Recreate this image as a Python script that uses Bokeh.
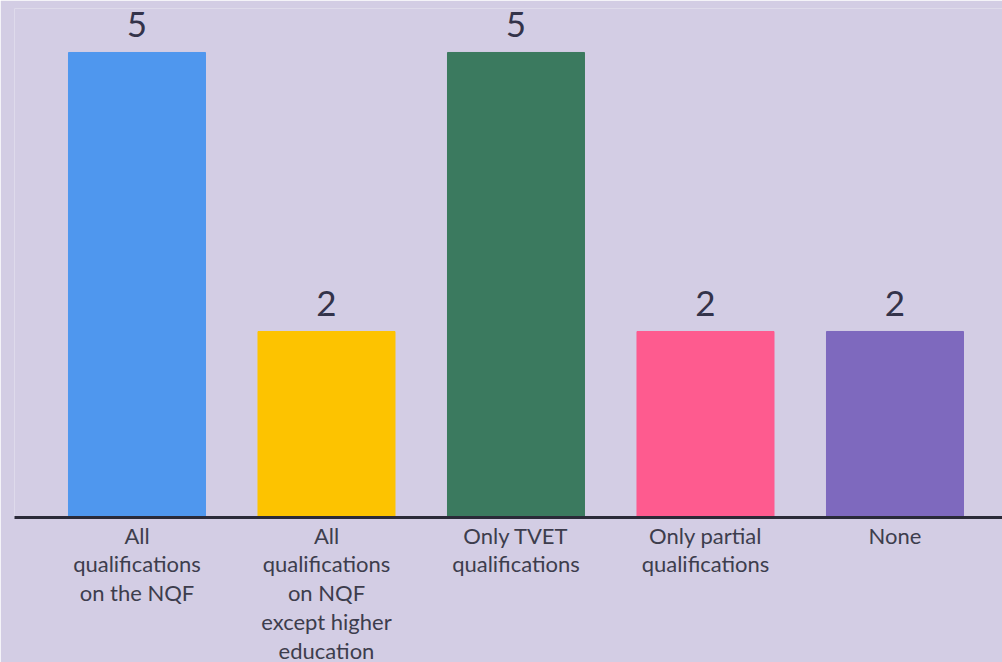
from bokeh.plotting import figure
from bokeh.models import ColumnDataSource, Range1d, FixedTicker, LabelSet
from bokeh.core.properties import value
from bokeh.embed import file_html
from bokeh.resources import INLINE

categories = ["All\nqualifications\non the NQF",
              "All\nqualifications\non NQF\nexcept higher\neducation",
              "Only TVET\nqualifications",
              "Only partial\nqualifications",
              "None"]
values = [5, 2, 5, 2, 2]
colors = ["#4f97ee", "#fdc300", "#3b7a5f", "#fe5b8f", "#7e69be"]

BG = "#d3cde4"
positions = list(range(len(categories)))

src = ColumnDataSource(dict(x=positions, top=values, color=colors,
                            label=[str(v) for v in values]))

p = figure(frame_width=988, frame_height=509, output_backend="svg",
           toolbar_location=None,
           x_range=Range1d(-0.6464, 4.5673), y_range=Range1d(0, 5.473),
           min_border_left=14, min_border_right=0, min_border_top=8,
           min_border_bottom=10)
p.background_fill_color = BG
p.border_fill_color = BG
p.outline_line_color = None
p.grid.visible = False
p.yaxis.visible = False

p.vbar(x="x", top="top", bottom=0, width=0.723, color="color", source=src)

labels = LabelSet(x="x", y="top", text="label", source=src,
                  text_align="center", text_baseline="middle", y_offset=28,
                  text_font=value("Lato"), text_font_size="35px",
                  text_color="#33334a")
p.add_layout(labels)

xa = p.xaxis[0]
xa.ticker = FixedTicker(ticks=positions)
xa.major_label_overrides = {i: c for i, c in zip(positions, categories)}
xa.axis_line_color = "#2a2a38"
xa.axis_line_width = 3
xa.major_tick_line_color = None
xa.minor_tick_line_color = None
xa.major_label_standoff = -2
xa.major_label_text_font = "Lato"
xa.major_label_text_font_size = "22px"
xa.major_label_text_color = "#3d3d4d"
xa.major_label_text_line_height = 1.07

open("out.html", "w").write(file_html(p, INLINE))
